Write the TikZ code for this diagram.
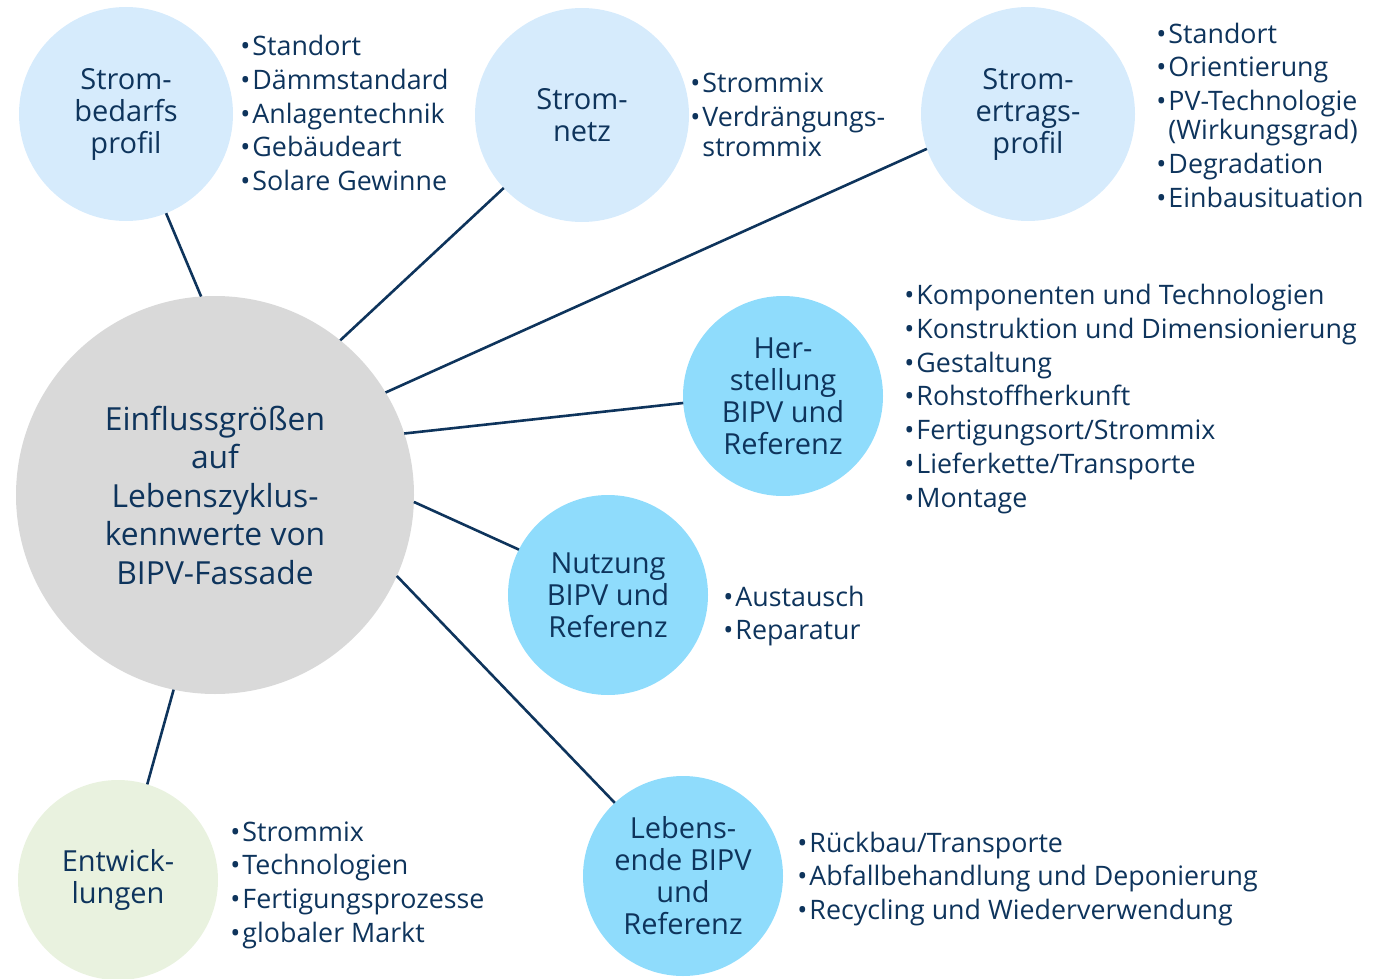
\documentclass[tikz,border=0pt]{standalone}
\usepackage{fontspec}
\setmainfont{Open Sans}
\usepackage{xcolor}
\usepackage{tikz}

\definecolor{navy}{RGB}{14,52,92}
\definecolor{paleblue}{RGB}{214,235,252}
\definecolor{skyblue}{RGB}{143,220,252}
\definecolor{bubblegray}{RGB}{217,217,217}
\definecolor{palegreen}{RGB}{233,242,223}

\newcommand{\itm}{\textbullet\kern1pt}
\newcommand{\cont}{\phantom{\textbullet}\kern1pt}

\begin{document}
\begin{tikzpicture}[x=0.5pt,y=-0.5pt,
    bubble/.style={circle,inner sep=0pt,outer sep=0pt,align=center,text=navy,
      font=\fontsize{14.5}{16}\selectfont},
    outer/.style={bubble,minimum size=107pt,fill=paleblue},
    phase/.style={bubble,minimum size=100pt,fill=skyblue},
    items/.style={anchor=west,inner sep=0pt,align=left,text=navy,
      font=\fontsize{13.4}{16.85}\selectfont},
    link/.style={draw=navy,line width=1.3pt}]
    \useasboundingbox (0,0) rectangle (1387,979);

    % Center
    \node[bubble,minimum size=199pt,fill=bubblegray,font=\fontsize{15.9}{19.25}\selectfont]
      (main) at (215,495) {Einflussgrößen\\auf\\Lebenszyklus-\\kennwerte von\\BIPV-Fassade};

    % Bubbles
    \node[outer] (bedarf) at (126,114) {Strom-\\bedarfs\\profil};
    \node[outer] (netz) at (582,115) {Strom-\\netz};
    \node[outer] (ertrag) at (1028,114) {Strom-\\ertrags-\\profil};
    \node[phase] (herst) at (783,396) {Her-\\stellung\\BIPV und\\Referenz};
    \node[phase] (nutz) at (608,595) {Nutzung\\BIPV und\\Referenz};
    \node[phase] (ende) at (683,876) {Lebens-\\ende BIPV\\und\\Referenz};
    \node[bubble,minimum size=100pt,fill=palegreen] (entw) at (118,880) {Entwick-\\lungen};

    % Lists
    \node[items] (bedarfitems) at (240,113) {\itm Standort\\\itm Dämmstandard\\\itm Anlagentechnik\\\itm Gebäudeart\\\itm Solare Gewinne};
    \node[items] (netzitems) at (690,115) {\itm Strommix\\\itm Verdrängungs-\\[-1.5pt]\cont strommix};
    \node[items] (ertragitems) at (1156,115) {\itm Standort\\\itm Orientierung\\\itm PV-Technologie\\[-2.25pt]\cont(Wirkungsgrad)\\\itm Degradation\\\itm Einbausituation};
    \node[items] (herstitems) at (904,399) {\itm Komponenten und Technologien\\\itm Konstruktion und Dimensionierung\\\itm Gestaltung\\\itm Rohstoffherkunft\\\itm Fertigungsort/Strommix\\\itm Lieferkette/Transporte\\\itm Montage};
    \node[items] (nutzitems) at (723,616) {\itm Austausch\\\itm Reparatur};
    \node[items] (endeitems) at (797,879) {\itm Rückbau/Transporte\\\itm Abfallbehandlung und Deponierung\\\itm Recycling und Wiederverwendung};
    \node[items] (entwitems) at (230,885) {\itm Strommix\\\itm Technologien\\\itm Fertigungsprozesse\\\itm globaler Markt};

    % Links
    \draw[link] (main.94) -- (bedarf.292);
    \draw[link] (main.51) -- (netz.223);
    \draw[link] (main.31) -- (ertrag.199);
    \draw[link] (main.18) -- (herst.184);
    \draw[link] (main.-2) -- (nutz.153);
    \draw[link] (main.-24) -- (ende.133);
    \draw[link] (main.258) -- (entw.73);
\end{tikzpicture}
\end{document}
